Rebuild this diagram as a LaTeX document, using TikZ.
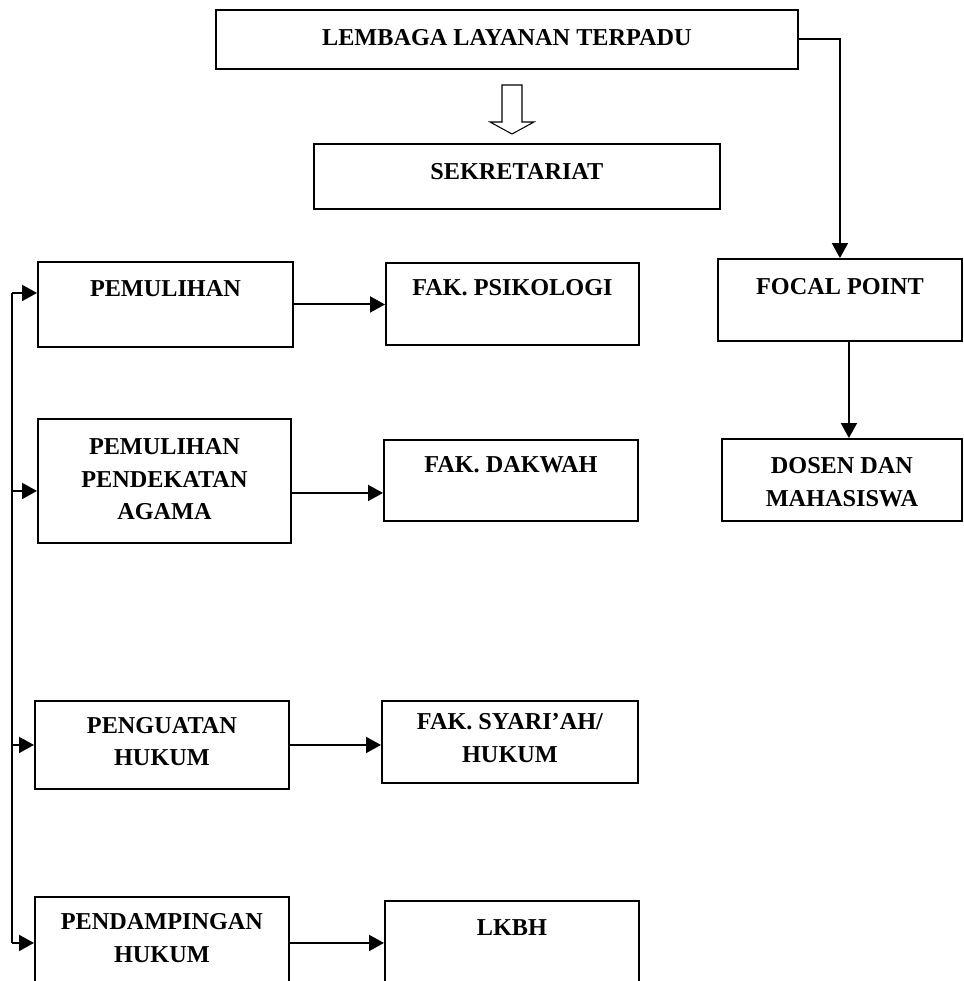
\documentclass[tikz,border=0pt]{standalone}
\usepackage{fontspec}
\setmainfont{Liberation Serif}
\usepackage{tikz}
\usetikzlibrary{arrows.meta}

\begin{document}
\begin{tikzpicture}[x=0.02cm,y=-0.02cm,
		unit/.style={draw, line width=1.1pt, anchor=north west, inner sep=0pt},
		caption/.style={anchor=north, align=center, inner sep=0pt, font=\fontsize{13.8}{18.3}\selectfont\bfseries},
		link/.style={line width=1.1pt, -{Triangle[length=0.3cm,width=0.32cm]}},
		busline/.style={line width=1.6pt}]
		\clip (0,0) rectangle (964,981);
		% top part
		\node[unit, minimum width=11.64cm, minimum height=1.18cm] (lembaga) at (215,9) {};
		\node[caption] (lembaga-t) at ([yshift=-0.41cm]lembaga.north) {LEMBAGA LAYANAN TERPADU};
		\node[unit, minimum width=8.12cm, minimum height=1.3cm] (sekretariat) at (313,143) {};
		\node[caption] (sekretariat-t) at ([yshift=-0.41cm]sekretariat.north) {SEKRETARIAT};
		\draw[line width=0.6pt] (502,85) -- (522,85) -- (522,122) -- (534,122) -- (512,134) -- (490,122) -- (502,122) -- cycle;
		% right column
		\node[unit, minimum width=4.88cm, minimum height=1.64cm] (focal) at (717,258) {};
		\node[caption] (focal-t) at ([yshift=-0.41cm]focal.north) {FOCAL POINT};
		\node[unit, minimum width=4.8cm, minimum height=1.64cm] (dosen) at (721,438) {};
		\node[caption] (dosen-t) at ([yshift=-0.39cm]dosen.north) {DOSEN DAN\\MAHASISWA};
		\draw[link] (lembaga.east) -| (focal.north);
		\draw[link] ([xshift=0.18cm]focal.south) -- ([xshift=0.18cm]focal.south |- dosen.north);
		% left column
		\node[unit, minimum width=5.1cm, minimum height=1.7cm] (pemulihan) at (37,261) {};
		\node[caption] (pemulihan-t) at ([yshift=-0.39cm]pemulihan.north) {PEMULIHAN};
		\node[unit, minimum width=5.06cm, minimum height=2.48cm] (agama) at (37,418) {};
		\node[caption] (agama-t) at ([yshift=-0.41cm]agama.north) {PEMULIHAN\\PENDEKATAN\\AGAMA};
		\node[unit, minimum width=5.08cm, minimum height=1.76cm] (penguatan) at (34,700) {};
		\node[caption] (penguatan-t) at ([yshift=-0.34cm]penguatan.north) {PENGUATAN\\HUKUM};
		\node[unit, minimum width=5.08cm, minimum height=1.84cm] (pendampingan) at (34,896) {};
		\node[caption] (pendampingan-t) at ([yshift=-0.35cm]pendampingan.north) {PENDAMPINGAN\\HUKUM};
		% faculties
		\node[unit, minimum width=5.06cm, minimum height=1.64cm] (psikologi) at (385,262) {};
		\node[caption] (psikologi-t) at ([yshift=-0.34cm]psikologi.north) {FAK. PSIKOLOGI};
		\node[unit, minimum width=5.08cm, minimum height=1.62cm] (dakwah) at (383,439) {};
		\node[caption] (dakwah-t) at ([yshift=-0.35cm]dakwah.north) {FAK. DAKWAH};
		\node[unit, minimum width=5.12cm, minimum height=1.64cm] (syariah) at (381,700) {};
		\node[caption] (syariah-t) at ([yshift=-0.27cm]syariah.north) {FAK. SYARI’AH/\\HUKUM};
		\node[unit, minimum width=5.08cm, minimum height=1.84cm] (lkbh) at (384,900) {};
		\node[caption] (lkbh-t) at ([yshift=-0.39cm]lkbh.north) {LKBH};
		\draw[link] (pemulihan.east) -- (pemulihan.east -| psikologi.west);
		\draw[link] ([yshift=-0.24cm]agama.east) -- ([yshift=-0.24cm]agama.east -| dakwah.west);
		\draw[link] (penguatan.east) -- (penguatan.east -| syariah.west);
		\draw[link] (pendampingan.east) -- (pendampingan.east -| lkbh.west);
		% bus on the left
		\coordinate (bus) at (12,0);
		\coordinate (in1) at ([yshift=0.23cm]pemulihan.west);
		\coordinate (in2) at ([yshift=-0.2cm]agama.west);
		\coordinate (in3) at (penguatan.west);
		\coordinate (in4) at (pendampingan.west);
		\draw[busline] (bus |- in1) -- (bus |- in4);
		\foreach \k in {in1,in2,in3,in4}
			\draw[link] (bus |- \k) -- (\k);
	\end{tikzpicture}
\end{document}
